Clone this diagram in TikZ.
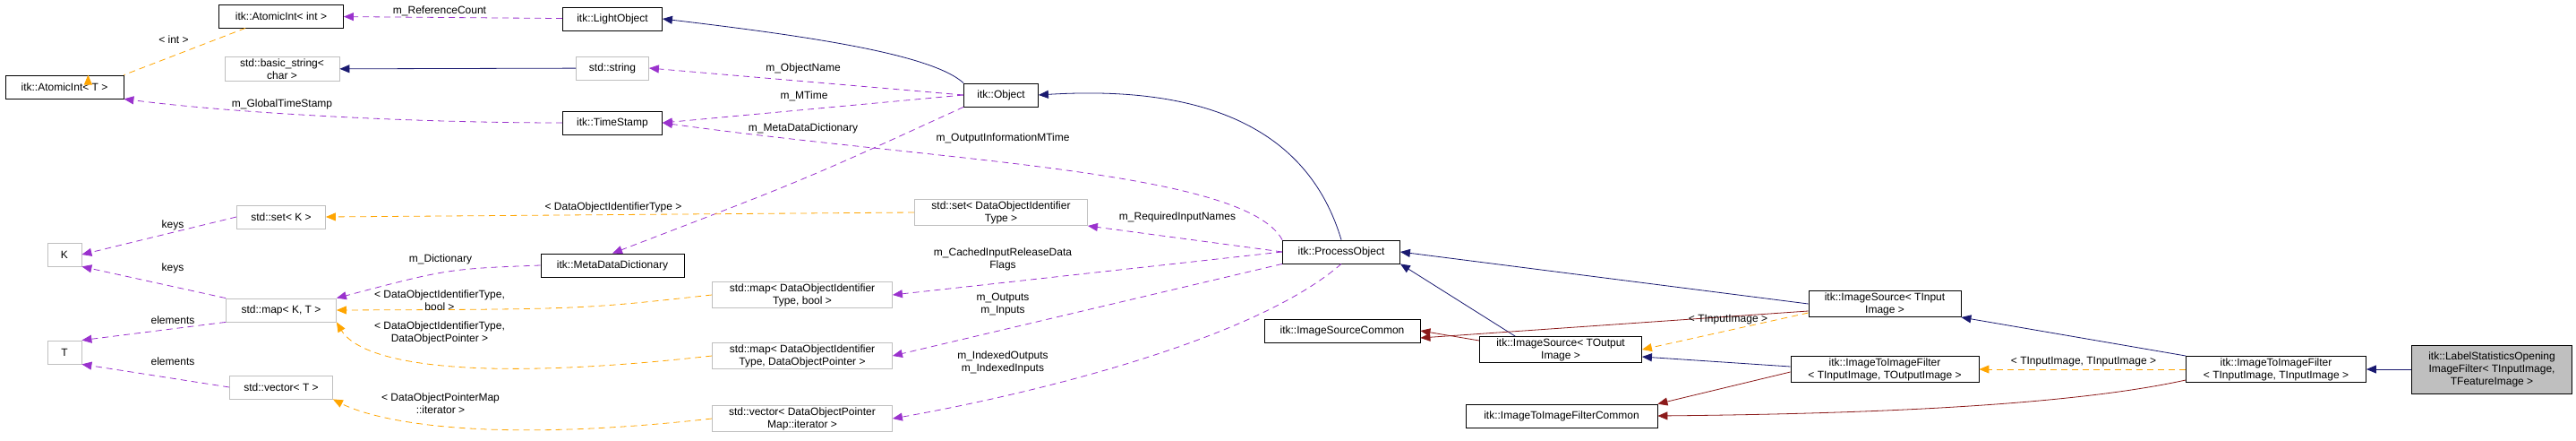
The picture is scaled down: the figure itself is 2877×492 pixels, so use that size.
\documentclass[tikz,border=0pt]{standalone}
\usepackage{fontspec}
\setmainfont{Liberation Sans}
\usetikzlibrary{arrows.meta}

\definecolor{navy}{HTML}{191970}
\definecolor{lilac}{HTML}{9A32CD}
\definecolor{amber}{HTML}{FFA500}
\definecolor{brick}{HTML}{8B1A1A}

\tikzset{
    box/.style = {draw, thick, fill = white, align = center, inner sep = 2pt,
                  minimum height = 26pt, font = \fontsize{12}{14}\selectfont},
    gbox/.style = {box, draw = black!25},
    lbl/.style = {align = center, font = \fontsize{12}{14}\selectfont, inner sep = 0pt},
    tip/.style = {-{Triangle[length = 11pt, width = 9pt]}},
    inherit/.style = {tip, navy, thick},
    usage/.style = {tip, lilac, thick, dash pattern = on 7pt off 5pt},
    templ/.style = {tip, amber, thick, dash pattern = on 7pt off 5pt},
    priv/.style = {tip, brick, thick}
}

\begin{document}
\begin{tikzpicture}[x = 1pt, y = -1pt]
    \useasboundingbox (0,0) rectangle (2877,492);

    % left part
    \node[box, minimum width = 139pt] (aint)  at (314,18)  {itk::AtomicInt< int >};
    \node[box, minimum width = 111pt] (light) at (684,21)  {itk::LightObject};
    \node[box, minimum width = 132pt] (aintT) at (72,97)   {itk::AtomicInt< T >};
    \node[gbox, minimum width = 128pt] (bstr) at (315,77)  {std::basic\_string<\\char >};
    \node[gbox, minimum width = 81pt] (str)   at (684,76)  {std::string};
    \node[box, minimum width = 111pt] (stamp) at (684,137) {itk::TimeStamp};
    \node[gbox, minimum width = 99pt] (setK)  at (314,242) {std::set< K >};
    \node[gbox, minimum width = 38pt] (K)     at (72,284)  {K};
    \node[gbox, minimum width = 38pt] (T)     at (72,393)  {T};
    \node[box, minimum width = 160pt] (mdd)   at (684,296) {itk::MetaDataDictionary};
    \node[gbox, minimum width = 123pt] (mapKT) at (314,346) {std::map< K, T >};
    \node[gbox, minimum width = 115pt] (vecT)  at (314,432) {std::vector< T >};

    % middle part
    \node[box, minimum width = 83pt] (obj)     at (1118,106) {itk::Object};
    \node[gbox, minimum width = 193pt] (setDO) at (1118,237) {std::set< DataObjectIdentifier\\Type >};
    \node[gbox, minimum width = 201pt] (mapB)  at (896,329)  {std::map< DataObjectIdentifier\\Type, bool >};
    \node[gbox, minimum width = 201pt] (mapP)  at (896,397)  {std::map< DataObjectIdentifier\\Type, DataObjectPointer >};
    \node[gbox, minimum width = 201pt] (vecP)  at (896,467)  {std::vector< DataObjectPointer\\Map::iterator >};
    \node[box, minimum width = 131pt] (proc)   at (1498,281) {itk::ProcessObject};
    \node[box, minimum width = 174pt] (srcC)   at (1499,369) {itk::ImageSourceCommon};
    \node[box, minimum width = 181pt] (srcO)   at (1743,390) {itk::ImageSource< TOutput\\Image >};
    \node[box, minimum width = 214pt] (filtC)  at (1744,464) {itk::ImageToImageFilterCommon};

    % right part
    \node[box, minimum width = 170pt] (srcI)   at (2105,339) {itk::ImageSource< TInput\\Image >};
    \node[box, minimum width = 210pt] (filtIO) at (2105,412) {itk::ImageToImageFilter\\< TInputImage, TOutputImage >};
    \node[box, minimum width = 201pt] (filtII) at (2542,412) {itk::ImageToImageFilter\\< TInputImage, TInputImage >};
    \node[box, fill = black!25, minimum width = 179pt, minimum height = 54pt] (lso)
        at (2783,412) {itk::LabelStatisticsOpening\\ImageFilter< TInputImage,\\TFeatureImage >};

    % connectors
    \draw[usage] (light) -- (aint);
    \draw[templ] (aint.south west) ++(30,0) -- (aintT.north east) ++(-40,0);
    \draw[inherit] (str) -- (bstr);
    \draw[usage] (stamp.west) .. controls (450,137) and (250,125) .. (aintT.south east);
    \draw[usage] (obj.west) -- (str.east);
    \draw[usage] (obj.west) -- (stamp.east);
    \draw[usage] (obj.south west) .. controls (900,200) .. (mdd.north);
    \draw[inherit] (obj.north west) .. controls (1040,60) and (900,40) .. (light.east);
    \draw[inherit] (proc.north) .. controls (1460,140) and (1340,95) .. (obj.east);
    \draw[usage] (proc.north west) .. controls (1390,190) and (1050,180) .. (stamp.east);
    \draw[usage] (proc.west) -- (setDO.south east);
    \draw[usage] (proc.west) -- (mapB.east);
    \draw[usage] (proc.south west) -- (mapP.east);
    \draw[usage] (proc.south) .. controls (1400,380) and (1150,440) .. (vecP.east);
    \draw[templ] (setDO.west) -- (setK.east);
    \draw[usage] (setK.west) -- (K.east);
    \draw[usage] (mapKT.north west) -- (K.south east);
    \draw[usage] (mapKT.south west) -- (T.north east);
    \draw[usage] (vecT.west) -- (T.south east);
    \draw[usage] (mdd.west) .. controls (500,300) .. (mapKT.north east);
    \draw[templ] (mapB.west) .. controls (650,345) .. (mapKT.east);
    \draw[templ] (mapP.west) .. controls (500,430) and (400,400) .. (mapKT.south east);
    \draw[templ] (vecP.west) .. controls (500,500) and (400,460) .. (vecT.south east);
    \draw[inherit] (srcO.north west) ++(40,0) -- (proc.south east);
    \draw[priv] (srcO.west) ++(0,-10) -- (srcC.east);
    \draw[inherit] (srcI.west) -- (proc.east);
    \draw[priv] (srcI.west) ++(0,8) -- ([yshift = -8pt]srcC.east);
    \draw[templ] (srcI.south west) ++(0,-5) -- (srcO.east);
    \draw[inherit] (filtIO.west) ++(0,-3) -- ([yshift = -8pt]srcO.east);
    \draw[priv] (filtIO.south west) ++(0,-12) -- (filtC.north east);
    \draw[inherit] (filtII.north west) -- (srcI.south east);
    \draw[priv] (filtII.west) ++(0,12) .. controls (2300,455) and (2050,462) .. (filtC.east);
    \draw[templ] (filtII.west) -- (filtIO.east);
    \draw[inherit] (lso) -- (filtII);

    % labels
    \node[lbl] (l1)  at (491,12)   {m\_ReferenceCount};
    \node[lbl] (l2)  at (194,44)   {< int >};
    \node[lbl] (l3)  at (897,76)   {m\_ObjectName};
    \node[lbl] (l4)  at (898,107)  {m\_MTime};
    \node[lbl] (l5)  at (897,143)  {m\_MetaDataDictionary};
    \node[lbl] (l6)  at (315,116)  {m\_GlobalTimeStamp};
    \node[lbl] (l7)  at (685,231)  {< DataObjectIdentifierType >};
    \node[lbl] (l8)  at (193,251)  {keys};
    \node[lbl] (l9)  at (193,299)  {keys};
    \node[lbl] (l10) at (193,357)  {elements};
    \node[lbl] (l11) at (193,403)  {elements};
    \node[lbl] (l12) at (492,289)  {m\_Dictionary};
    \node[lbl] (l13) at (491,335)  {< DataObjectIdentifierType,\\bool >};
    \node[lbl] (l14) at (491,371)  {< DataObjectIdentifierType,\\DataObjectPointer >};
    \node[lbl] (l15) at (492,450)  {< DataObjectPointerMap\\::iterator >};
    \node[lbl] (l16) at (1120,154) {m\_OutputInformationMTime};
    \node[lbl] (l17) at (1315,242) {m\_RequiredInputNames};
    \node[lbl] (l18) at (1120,289) {m\_CachedInputReleaseData\\Flags};
    \node[lbl] (l19) at (1120,340) {m\_Outputs\\m\_Inputs};
    \node[lbl] (l20) at (1120,404) {m\_IndexedOutputs\\m\_IndexedInputs};
    \node[lbl] (l21) at (1930,357) {< TInputImage >};
    \node[lbl] (l22) at (2327,404) {< TInputImage, TInputImage >};
\end{tikzpicture}
\end{document}
